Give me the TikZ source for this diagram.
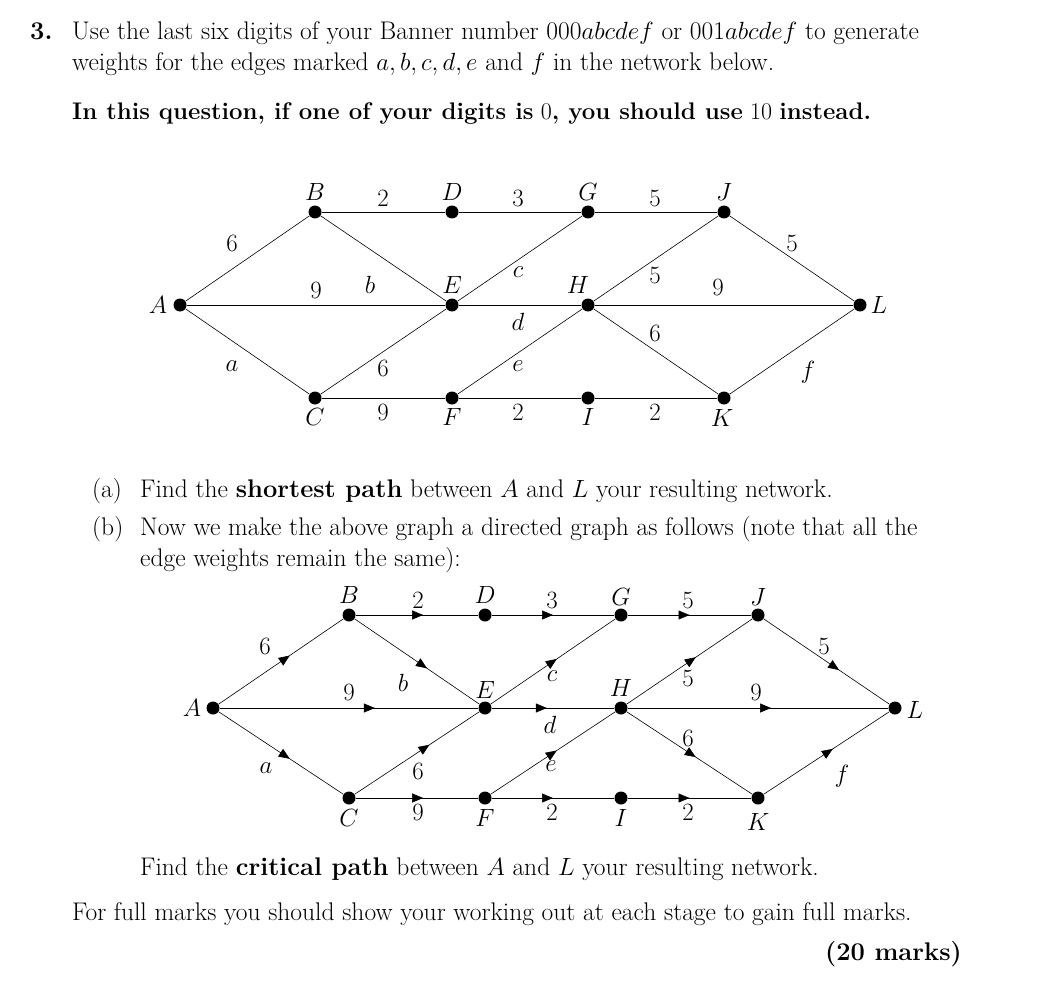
\documentclass[tikz,border=0pt]{standalone}
\usetikzlibrary{decorations.markings,arrows.meta}
\begin{document}
\begin{tikzpicture}[x=1pt,y=-1pt,
  dot/.style={circle,fill=black,inner sep=0pt,minimum size=13pt},
  lab/.style={font=\fontsize{23}{27}\selectfont},
  txt/.style={font=\fontsize{25.5}{31}\selectfont,anchor=base west,inner sep=0pt},
  ed/.style={line width=0.6pt},
  de/.style={line width=0.6pt,postaction={decorate},decoration={markings,mark=at position #1 with {\arrow{Triangle[length=11pt,width=9pt]}}}},
  de/.default=0.55]
\useasboundingbox (0,0) rectangle (1048,1000);
% text
\node[txt] (t0) at (30,40) {\textbf{3.}};
\node[txt] (t1) at (72,40) {Use the last six digits of your Banner number 000$abcdef$ or 001$abcdef$ to generate};
\node[txt] (t2) at (72,71) {weights for the edges marked $a,b,c,d,e$ and $f$ in the network below.};
\node[txt,font=\fontsize{24}{31}\selectfont] (t3) at (72,120) {\textbf{In this question, if one of your digits is} 0\textbf{, you should use} 10 \textbf{instead.}};
\node[txt] (t4) at (92,497) {(a)};
\node[txt] (t5) at (140,497) {Find the \textbf{shortest path} between $A$ and $L$ your resulting network.};
\node[txt] (t6) at (92,535) {(b)};
\node[txt] (t7) at (140,535) {Now we make the above graph a directed graph as follows (note that all the};
\node[txt] (t8) at (140,566) {edge weights remain the same):};
\node[txt] (t9) at (140,875) {Find the \textbf{critical path} between $A$ and $L$ your resulting network.};
\node[txt] (t10) at (72,920) {For full marks you should show your working out at each stage to gain full marks.};
\node[txt,anchor=base east] (t11) at (962,960) {\textbf{(20 marks)}};
% graph 1
\foreach \n/\x/\y in {A/180/305,B/315/212,D/452/212,G/588/212,J/724/212,E/452/305,H/588/305,L/860/305,C/315/398,F/452/398,I/588/398,K/724/398}
  \node[dot] (\n1) at (\x,\y) {};
\foreach \a/\b in {A/B,A/E,A/C,B/D,B/E,D/G,C/E,C/F,E/G,E/H,F/H,F/I,G/J,H/J,H/L,J/L,H/K,I/K,K/L}
  \draw[ed] (\a1) -- (\b1);
\foreach \t/\x/\y in {B/315/192,D/452/192,G/588/192,J/724/192,A/158/305,L/879/305,E/452/285,H/578/285,C/315/417,F/452/417,I/588/417,K/722/418,
  2/383/198,3/518/198,5/655/198,6/232/243,9/316/290,b/370/285,c/518/272,5/655/275,9/718/287,5/792/243,d/518/322,6/655/333,a/232/366,6/383/368,e/518/366,f/808/372,9/383/412,2/518/412,2/655/412}
  \node[lab] at (\x,\y) {$\t$};
% graph 2
\foreach \n/\x/\y in {A/213/708,B/349/615,D/485/615,G/621/615,J/758/615,E/485/708,H/621/708,L/895/708,C/349/798,F/485/798,I/621/798,K/758/798}
  \node[dot] (\n2) at (\x,\y) {};
\foreach \a/\b/\p in {A/B/0.57,A/E/0.6,A/C/0.57,B/D/0.55,B/E/0.58,D/G/0.5,C/E/0.6,C/F/0.55,E/G/0.53,E/H/0.45,F/H/0.53,F/I/0.5,G/J/0.5,H/J/0.55,H/L/0.55,J/L/0.6,H/K/0.55,I/K/0.5,K/L/0.55}
  \draw[de=\p] (\a2) -- (\b2);
\foreach \t/\x/\y in {B/349/595,D/485/595,G/621/597,J/758/597,A/192/708,L/915/710,E/485/690,H/621/688,C/349/818,F/485/818,I/621/818,K/758/822,
  2/418/600,3/552/600,5/688/600,6/265/646,5/824/646,9/349/692,b/403/683,c/552/676,5/688/678,9/756/692,d/550/725,6/688/738,a/266/768,6/418/771,e/551/766,f/842/776,9/418/812,2/552/812,2/688/812}
  \node[lab] at (\x,\y) {$\t$};
\end{tikzpicture}
\end{document}
